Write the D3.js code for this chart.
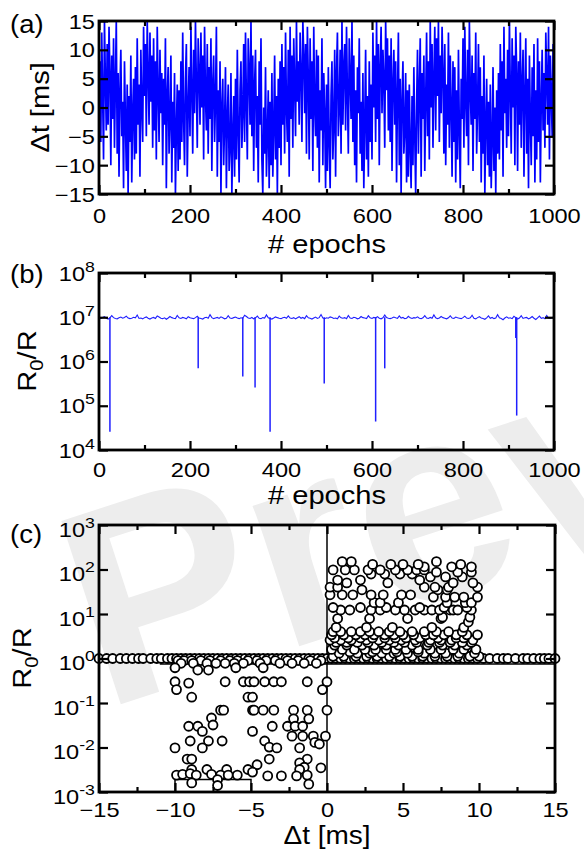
<!DOCTYPE html>
<html>
<head>
<meta charset="utf-8">
<script src="https://cdn.jsdelivr.net/npm/d3@7"></script>
<style>
  body { margin: 0; background: #fff; }
  svg { display: block; }
</style>
</head>
<body>
<svg id="chart" width="584" height="857"></svg>
<script>
// ---------------- DATA ----------------
// Panel (a): Δt [ms] per epoch (one value every epochStep epochs)
const epochStep = 2;
const dtSeries = [
  0, 8, -6, 13, 2, -9, 15, 5, -4, 11,   -3, 14, 6, -10, 9, -2, 12, -7, 4, 15,
  -8, 6, -12, 3, 10, -5, 1, -14, 8, -2,  -11, 4, -15, 2, -6, 9, -13, -1, 5, -9,
  7, -8, 12, -3, 4, -12, 10, 0, -6, 14,  2, 11, -5, 15, 6, -3, 13, 1, 9, -7,
  12, -4, 8, -9, 14, 3, -6, 10, -1, 6,   -10, 5, -3, 12, -14, 2, 7, -8, -2, 9,
  -13, 1, -7, 6, -15, -4, 4, -11, 3, -9, 8, -6, 13, -2, -10, 5, 11, -12, 0, 7,
  -5, 14, 3, -8, 10, -1, 15, 4, -7, 12,  6, -3, 13, 0, 9, -9, 14, 2, -4, 11,
  -8, 7, -2, 12, -11, 4, 9, -6, 1, 14,   -12, 3, -6, 8, -15, 0, 5, -10, -3, 7,
  -14, -2, 4, -11, -7, 6, -15, -5, 2, -12, 5, -9, 10, -4, -13, 3, 8, -7, -1, 11,
  -6, 13, 1, -9, 12, 6, -3, 15, -5, 9,   -11, 4, 10, -7, 2, -13, 8, -3, 12, -9,
  -15, 0, -8, 7, -12, -5, 3, -14, 1, -10, 6, -12, -4, 9, -9, 2, -15, 5, -7, 8,
  -10, 11, -3, 7, -8, 13, 0, -6, 10, -12, 14, -2, 9, -7, 12, 4, -5, 15, 1, 8,
  -3, 13, 6, -6, 15, 9, -1, 11, -8, 14,  5, -9, 12, -2, 8, -11, 14, 0, -5, 10,
  -7, 9, -13, 3, -4, 12, -10, 6, -1, -14, 4, -11, 7, -6, -14, 2, 8, -9, -3, 10,
  -12, 6, 13, -5, 0, 10, -8, 15, -3, 7,  11, -4, 14, 2, -8, 12, 5, -2, 15, -6,
  9, -10, 3, -13, 7, -1, 12, -8, 1, -11, 6, -14, -3, 10, -9, 2, -12, 8, -6, 4,
  -9, 13, 0, 9, -6, 15, -2, 11, -10, 7,  14, -1, 10, 5, -7, 15, 3, 12, -4, 9,
  -6, 12, -11, 4, 10, -3, 8, -13, 2, 13, -10, 5, -15, 1, 8, -8, -4, 6, -13, 3,
  -12, 4, -7, -14, 2, -10, 7, -5, -15, 0, 10, -8, 3, 12, -12, 6, -2, 9, -11, 1,
  13, -5, 8, -9, 15, 0, 11, -7, 5, 14,   -4, 12, 2, 15, -6, 9, -1, 14, 6, -8,
  11, -10, 4, -3, 13, -7, 9, 0, -12, 8,  -6, 7, -13, 3, -9, 10, -4, -14, 5, -2,
  12, -7, 14, 1, -5, 10, -10, 15, 3, -3, 9, -11, 6, -2, 13, -8, 0, 11, -6, 7,
  -13, 2, -8, 9, -15, -3, 5, -10, 1, -12, 4, -14, -6, 7, -11, 0, -15, 3, -8, 6,
  -9, 11, -4, 8, -12, 14, -1, 5, -7, 10, -5, 15, 3, -8, 12, 0, 9, -10, 14, 6,
  -11, 8, -3, 13, -7, 4, 10, -12, 2, 12, -8, 5, -14, 9, -2, -10, 7, -5, 11, -13,
  3, -9, 12, -6, 8, -13, 1, 10, -4, 6,   -7, 13, 5, -3, 14, -9, 9, 2, -5, 11,
  4
];

// Panel (b): R0/R baseline (in units of ratioUnit), one value every baseEpochStep epochs
const ratioUnit = 1e7;
const baseEpochStep = 4;
const ratioBase = [
  0.96,0.93,0.99,1.03,0.95,0.91,0.97,1.09,0.98,0.94,0.92,0.97,1.01,0.95,0.99,1.06,0.96,0.93,0.95,1.00,0.97,1.12,0.94,0.96,0.92,
  0.98,1.02,0.95,0.91,0.96,0.99,0.94,1.07,1.01,0.95,0.93,0.97,0.90,0.96,1.04,0.98,0.95,0.93,1.10,0.97,0.94,0.99,0.96,0.92,1.03,
  0.97,0.95,0.93,0.98,1.05,0.96,0.94,0.91,0.97,1.00,0.95,1.14,0.98,0.93,0.96,0.99,0.94,1.02,0.97,0.92,0.95,1.08,0.96,0.94,0.98,
  1.01,0.96,0.93,0.97,0.95,1.11,1.04,0.96,0.94,0.99,0.92,0.97,1.06,0.95,0.93,0.98,0.96,1.13,0.97,0.94,0.91,0.96,1.02,0.98,0.95,
  0.93,0.97,1.00,0.95,1.07,0.96,0.94,0.98,0.92,0.97,1.03,0.95,0.99,0.93,1.09,0.97,0.95,0.91,0.96,1.01,0.94,0.98,1.15,0.96,0.93,
  0.97,0.95,1.02,0.99,0.94,0.96,0.92,1.06,0.97,0.95,0.98,0.93,1.10,0.96,0.94,1.00,0.97,0.92,0.95,1.04,0.98,0.96,0.93,1.08,0.97,
  0.94,0.99,0.96,1.03,0.95,0.92,0.97,1.12,0.98,0.95,0.93,0.96,1.01,0.97,0.94,1.07,0.96,0.99,0.93,0.95,1.05,0.97,0.94,0.98,0.96,
  1.02,0.95,0.93,0.97,1.09,0.96,0.94,0.99,0.95,1.13,0.97,0.93,0.96,1.04,0.98,0.95,0.92,0.97,1.08,0.96,0.94,1.01,0.97,0.95,0.93,
  0.98,1.06,0.96,0.94,0.97,1.11,0.95,0.92,0.98,1.03,0.96,0.94,0.90,0.97,1.07,0.95,0.99,0.93,0.96,1.14,0.97,0.94,0.88,0.96,1.02,
  0.95,0.97,0.93,1.05,0.98,0.91,0.96,1.09,0.94,0.97,0.99,0.92,0.96,1.04,0.95,0.89,0.97,1.06,0.94,0.98,0.93,1.10,0.96,0.94,0.99,
  0.97
];
// Panel (b): sharp drops of R0/R
const dipEpochs = [24, 218, 316, 343, 376, 495, 608, 628, 916, 918];
const dipRatios = [2.6e4, 7e5, 4.6e5, 2.6e5, 2.6e4, 3.2e5, 4.4e4, 7e5, 3.4e6, 6e4];

// Panel (c): scatter points [Δt (ms), R0/R]
const scatterPts = [
  // R0/R = 1 band
  [-15,1],[-14.5,1],[-14.1,1],[-13.6,1],[-13.2,1],[-12.8,1],[-12.4,1],[-12.1,1],[-11.6,1],[-11.2,1],[-10.9,1],[-10.5,1],[-10.2,1],
  [-9.9,1],[-9.6,1],[-9.3,1],[-9.0,1],[-8.7,1],[-8.4,1],[-8.1,1],[-7.8,1],[-7.5,1],[-7.2,1],[-6.9,1],[-6.6,1],[-6.3,1],[-6.0,1],
  [-5.7,1],[-5.4,1],[-5.1,1],[-4.8,1],[-4.5,1],[-4.2,1],[-3.9,1],[-3.6,1],[-3.3,1],[-3.0,1],[-2.7,1],[-2.4,1],[-2.1,1],[-1.8,1],
  [-1.5,1],[-1.2,1],[-0.9,1],[-0.6,1],[-0.3,1],[0.0,1],[0.3,1],[0.6,1],[0.9,1],[1.2,1],[1.5,1],[1.8,1],[2.1,1],[2.4,1],[2.7,1],
  [3.0,1],[3.3,1],[3.6,1],[3.9,1],[4.2,1],[4.5,1],[4.8,1],[5.1,1],[5.4,1],[5.7,1],[6.0,1],[6.3,1],[6.6,1],[6.9,1],[7.2,1],[7.5,1],
  [7.8,1],[8.1,1],[8.4,1],[8.7,1],[9.0,1],[9.3,1],[9.6,1],[9.9,1],[10.3,1],[10.7,1],[11.2,1],[11.6,1],[11.9,1],[12.4,1],[12.9,1],
  [13.2,1],[13.6,1],[14.0,1],[14.3,1],[14.6,1],[15.0,1],
  // just below 1 (Δt < 0)
  [-9.8,0.9],[-9.4,0.9],[-8.9,0.9],[-8.3,0.9],[-7.7,0.9],[-7.0,0.9],[-6.4,0.9],[-5.9,0.9],[-5.2,0.9],[-4.6,0.9],[-4.0,0.9],
  [-3.4,0.9],[-2.6,0.9],[-1.9,0.9],[-1.1,0.9],[-0.4,0.9],
  [-9.6,0.78],[-8.8,0.78],[-7.9,0.78],[-7.3,0.78],[-6.7,0.78],[-6.1,0.78],[-5.5,0.78],[-4.4,0.78],[-3.1,0.78],[-2.3,0.78],
  [-1.5,0.78],[-0.7,0.78],
  [-10.0,0.62],[-6.0,0.62],[-4.2,0.62],[-8.5,0.55],[-7.8,0.55],
  // depression cloud (Δt < 0)
  [-10.0,0.3],[-9.1,0.28],[-6.7,0.3],[-5.5,0.3],[-5.1,0.3],[-4.8,0.3],[-4.1,0.3],[-3.5,0.3],[-3.0,0.3],[-1.3,0.3],[0.0,0.3],
  [-9.9,0.2],[-0.3,0.2],
  [-8.9,0.135],[-5.2,0.135],[-4.9,0.135],
  [-7.0,0.069],[-6.8,0.069],[-4.9,0.069],[-4.8,0.069],[-4.2,0.069],[-3.5,0.069],[-2.2,0.069],[-1.3,0.069],[0.0,0.069],
  [-7.6,0.046],[-2.2,0.044],[-1.2,0.044],
  [-7.5,0.032],[-9.1,0.03],[-8.5,0.03],[-3.6,0.03],[-2.6,0.03],[-2.1,0.03],[-1.6,0.03],
  [-8.2,0.023],[-4.9,0.023],
  [-2.3,0.018],[-1.6,0.018],[-0.9,0.018],[-0.1,0.018],
  [-9.0,0.014],[-7.8,0.014],[-6.9,0.014],[-4.1,0.014],[-0.8,0.013],[-0.5,0.012],
  [-8.2,0.0098],[-10.0,0.0098],[-3.8,0.0102],[-3.3,0.0098],[-1.8,0.0098],
  [-9.2,0.0055],[-8.9,0.0055],[-3.8,0.0055],[-1.3,0.0055],
  [-1.8,0.0045],[-4.6,0.0041],[-1.5,0.0036],[-1.8,0.0032],[-0.4,0.0035],
  [-8.9,0.0032],[-7.9,0.0032],[-6.6,0.0032],[-5.2,0.0032],[-4.9,0.0028],
  [-9.9,0.0024],[-9.5,0.0025],[-9.0,0.0026],[-8.6,0.0024],[-7.6,0.0025],[-7.0,0.0024],[-6.5,0.0024],[-5.9,0.0024],
  [-7.2,0.0019],[-7.2,0.0014],[-8.9,0.0016],
  [-3.9,0.0023],[-3.0,0.0023],[-2.0,0.0023],[-1.3,0.0024],[-1.2,0.0015],
  // potentiation cloud (Δt > 0)
  [0.4,1.12],[1.1,1.12],[1.9,1.12],[2.6,1.12],[3.3,1.12],[4.1,1.12],[4.8,1.12],[5.6,1.12],[6.3,1.12],[7.1,1.12],[7.9,1.12],
  [8.6,1.12],[9.4,1.12],[10.0,1.12],
  [0.8,1.32],[2.0,1.32],[2.8,1.32],[3.6,1.32],[4.4,1.32],[5.3,1.32],[6.4,1.32],[7.1,1.32],[7.8,1.32],[8.7,1.32],[9.7,1.32],
  [1.5,1.4],[3.0,1.4],[4.6,1.4],[6.0,1.4],
  [0.3,1.6],[1.0,1.6],[1.8,1.6],[2.5,1.6],[3.2,1.6],[3.9,1.6],[4.5,1.6],[5.2,1.6],[6.0,1.6],[6.8,1.6],[7.5,1.6],[8.3,1.6],
  [9.0,1.6],[9.8,1.6],
  [0.5,2.0],[1.3,2.0],[2.3,2.0],[3.1,2.0],[3.9,2.0],[4.7,2.0],[5.6,2.0],[6.6,2.0],[7.6,2.0],[8.4,2.0],[9.2,2.0],
  [0.6,2.3],[1.3,2.3],[2.0,2.3],[2.7,2.3],[3.6,2.3],[4.4,2.3],[5.1,2.3],[5.9,2.3],[6.7,2.3],[7.4,2.3],[8.1,2.3],[8.9,2.3],[9.5,2.3],
  [0.2,2.6],[0.9,2.6],[1.6,2.6],[2.6,2.6],[3.4,2.6],[4.1,2.6],[4.9,2.6],[5.8,2.6],[6.8,2.6],[7.5,2.6],[8.2,2.6],[9.6,2.6],
  [0.5,2.9],[1.4,2.9],[2.2,2.9],[3.0,2.9],[3.8,2.9],[4.5,2.9],[5.2,2.9],[6.1,2.9],[7.3,2.9],[8.5,2.9],[9.0,2.9],
  [0.3,3.4],[1.1,3.4],[1.9,3.4],[2.5,3.4],[3.1,3.4],[3.8,3.4],[4.4,3.4],[5.0,3.4],[5.7,3.4],[6.5,3.4],[7.0,3.4],[7.7,3.4],
  [8.5,3.4],[9.2,3.4],[9.9,3.4],
  [0.4,4.0],[0.9,4.0],[1.6,4.0],[2.2,4.0],[2.8,4.0],[3.4,4.0],[4.1,4.0],[4.8,4.0],[5.6,4.0],[6.4,4.0],[7.2,4.0],[8.0,4.0],[8.9,4.0],
  [0.6,5.0],[2.6,5.0],[4.3,5.0],[6.9,5.0],[9.0,5.0],
  [9.3,6.6],[0.7,7.9],[2.8,7.9],[5.3,7.9],[7.5,7.9],[7.6,8.5],[9.4,8.5],
  [0.9,12.3],[1.5,12.3],[2.9,12.3],[3.5,12.3],[4.5,12.3],[5.1,12.3],[5.8,12.3],[6.4,12.3],[6.9,12.3],[7.4,12.3],[8.1,12.3],
  [8.3,12.3],[8.6,12.3],[9.5,12.3],
  [0.4,14],[2.2,14],[3.9,14],[6.1,14],[7.7,14],[9.2,14],
  [3.1,18],[3.5,18],[4.7,18],[7.9,18],[9.1,18],[9.5,18],
  [7.0,24],[7.8,24],[8.4,24],[9.0,24],[9.9,24],
  [0.2,27],[1.0,27],[1.7,27],[2.9,27],[3.7,27],[4.9,27],[5.5,27],
  [2.3,35],[7.3,35],[7.9,35],
  [0.2,40],[0.7,40],[6.4,40],[7.1,40],[8.0,40],[9.9,40],
  [1.3,50],[4.0,50],[8.3,50],[9.6,50],
  [0.7,58],[2.2,58],[6.1,58],
  [6.8,68],[7.8,68],[8.9,68],
  [2.9,79],[3.8,79],[4.8,79],[5.6,79],
  [7.2,87],[8.6,87],[9.5,87],
  [0.4,98],[1.2,98],[1.8,98],[2.7,98],[3.5,98],[4.5,98],[5.3,98],[5.9,98],[6.4,98],
  [6.4,115],[8.2,115],[9.5,115],
  [3.0,130],[4.2,130],[5.0,130],[6.0,130],[8.8,130],
  [1.0,150],[1.6,150],[7.2,150]
];
// Panel (c): guide lines
const guideV = [[0, 1e-3], [0, 1e3]];
const guideH = [[-11, 0.75], [15, 0.75]];
const guideBox = [[-10, 1e-3], [-10, 0.0019], [-5, 0.0019], [-5, 1e-3]];

// Tick values
const epochMajor = [0, 200, 400, 600, 800, 1000];
const epochMinor = [100, 300, 500, 700, 900];
const dtMajorA = [-15, -10, -5, 0, 5, 10, 15];
const decadesB = [1e4, 1e5, 1e6, 1e7, 1e8];
const decadesC = [1e-3, 1e-2, 1e-1, 1e0, 1e1, 1e2, 1e3];
const dtMajorC = [-15, -10, -5, 0, 5, 10, 15];
const dtMinorC = [-12.5, -7.5, -2.5, 2.5, 7.5, 12.5];

// ---------------- DRAWING ----------------
const FONT = '"Liberation Sans", Arial, Helvetica, sans-serif';
const SX = 1.18;  // tick label width stretch
const SXT = 1.12; // title width stretch
const svg = d3.select('#chart');

// watermark
svg.append('text')
  .attr('transform', 'translate(103,710) rotate(-18)')
  .attr('font-family', FONT).attr('font-weight', 'bold')
  .attr('font-size', 280).attr('fill', '#ededed')
  .text('Preview');

function expLabel(sel, shiftDy) {
  sel.each(function(d) {
    const t = d3.select(this);
    const e = Math.round(Math.log10(d));
    t.text(null).attr('dy', shiftDy);
    t.append('tspan').text('10');
    t.append('tspan').attr('dy', -9).attr('font-size', 15).text(String(e));
  });
}

function drawAxes(x, y, cfg) {
  const [xl, xr] = x.range();
  const [yb, yt] = y.range();
  const g = svg.append('g');
  const MAJ = 9, MIN = 5;
  function add(axis, tr) {
    const a = g.append('g').attr('transform', tr).call(axis);
    a.select('.domain').remove();
    a.attr('font-family', FONT).attr('font-size', 20);
    a.selectAll('line').attr('stroke', '#000').attr('stroke-width', 2.2);
    a.selectAll('text').attr('fill', '#000');
    return a;
  }
  // bottom
  const bot = add(d3.axisBottom(x).tickValues(cfg.xMajor).tickSize(-MAJ).tickSizeOuter(0)
      .tickFormat(cfg.xFormat || d3.format('d')), `translate(0,${yb})`);
  bot.selectAll('text').attr('y', cfg.xLabOff).attr('dy', 0)
     .attr('transform', `scale(${SX},1)`);
  add(d3.axisBottom(x).tickValues(cfg.xMinor).tickSize(-MIN).tickSizeOuter(0).tickFormat(''), `translate(0,${yb})`);
  // top
  add(d3.axisTop(x).tickValues(cfg.xMajor).tickSize(-MAJ).tickSizeOuter(0).tickFormat(''), `translate(0,${yt})`);
  add(d3.axisTop(x).tickValues(cfg.xMinor).tickSize(-MIN).tickSizeOuter(0).tickFormat(''), `translate(0,${yt})`);
  // left
  const left = add(d3.axisLeft(y).tickValues(cfg.yMajor).tickSize(-MAJ).tickSizeOuter(0).tickPadding(3.5)
      .tickFormat(cfg.log ? (() => '') : d3.format('d')), `translate(${xl},0)`);
  if (cfg.log) expLabel(left.selectAll('text'), cfg.yDy);
  else left.selectAll('text').attr('dy', cfg.yDy);
  left.selectAll('text').attr('transform', `scale(${SX},1)`);
  // right
  add(d3.axisRight(y).tickValues(cfg.yMajor).tickSize(-MAJ).tickSizeOuter(0).tickFormat(''), `translate(${xr},0)`);
  // frame
  g.append('rect').attr('x', xl).attr('y', yt).attr('width', xr - xl).attr('height', yb - yt)
    .attr('fill', 'none').attr('stroke', '#000').attr('stroke-width', 2.8);
  return g;
}

function addText(x, y, size, str, opts = {}) {
  const t = svg.append('text')
    .attr('transform', `translate(${x},${y})` + (opts.rot ? ' rotate(-90)' : '') + ` scale(${opts.sx || SXT},1)`)
    .attr('font-family', FONT).attr('font-size', size).attr('fill', '#000')
    .attr('text-anchor', opts.anchor || 'middle');
  if (typeof str === 'string') t.text(str);
  else str(t);
  return t;
}
function ratioTitle(t) {
  t.append('tspan').text('R');
  t.append('tspan').attr('font-size', 18).attr('dy', 7).text('0');
  t.append('tspan').attr('dy', -7).text('/R');
}

// ---- Panel (a)
const xA = d3.scaleLinear().domain([0, 1000]).range([99, 554]);
const yA = d3.scaleLinear().domain([-15, 15]).range([194, 21]);
svg.append('clipPath').attr('id', 'clipA').append('rect')
  .attr('x', 99).attr('y', 21).attr('width', 455).attr('height', 173);
svg.append('path')
  .datum(dtSeries.map((v, i) => [i * epochStep, v]))
  .attr('clip-path', 'url(#clipA)')
  .attr('fill', 'none').attr('stroke', '#0000ff').attr('stroke-width', 1.7)
  .attr('d', d3.line().x(d => xA(d[0])).y(d => yA(d[1])));
drawAxes(xA, yA, { xMajor: epochMajor, xMinor: epochMinor, yMajor: dtMajorA, xLabOff: 29, yDy: '0.35em' });
addText(327, 253, 26, '# epochs');
addText(49, 107.5, 26, 'Δt [ms]', { rot: true });
addText(10, 33, 25, '(a)', { anchor: 'start', sx: 1.1 });

// ---- Panel (b)
const xB = d3.scaleLinear().domain([0, 1000]).range([99, 554]);
const yB = d3.scaleLog().domain([1e4, 1e8]).range([450, 273]);
const lineB = d3.line().x(d => xB(d[0])).y(d => yB(d[1]));
svg.append('path')
  .datum(ratioBase.map((v, i) => [i * baseEpochStep, v * ratioUnit]))
  .attr('fill', 'none').attr('stroke', '#1f1fff').attr('stroke-width', 1.1)
  .attr('d', lineB);
svg.append('g').selectAll('path').data(dipEpochs).join('path')
  .attr('fill', 'none').attr('stroke', '#1f1fff').attr('stroke-width', 1.5)
  .attr('d', (e, i) => lineB([[e, ratioUnit], [e, dipRatios[i]]]));
drawAxes(xB, yB, { xMajor: epochMajor, xMinor: epochMinor, yMajor: decadesB, log: true, xLabOff: 27, yDy: '0.35em' });
addText(327, 504, 26, '# epochs');
addText(36, 361, 26, ratioTitle, { rot: true });
addText(10, 283, 25, '(b)', { anchor: 'start', sx: 1.1 });

// ---- Panel (c)
const xC = d3.scaleLinear().domain([-15, 15]).range([99, 555]);
const yC = d3.scaleLog().domain([1e-3, 1e3]).range([792, 525]);
const lineC = d3.line().x(d => xC(d[0])).y(d => yC(d[1]));
[guideH, guideV, guideBox].forEach(gd => {
  svg.append('path').datum(gd).attr('fill', 'none').attr('stroke', '#000')
    .attr('stroke-width', 1.5).attr('d', lineC);
});
svg.append('g').selectAll('circle').data(scatterPts).join('circle')
  .attr('cx', d => xC(d[0])).attr('cy', d => yC(d[1])).attr('r', 4.5)
  .attr('fill', '#fff').attr('stroke', '#000').attr('stroke-width', 1.8);
drawAxes(xC, yC, { xMajor: dtMajorC, xMinor: dtMinorC, yMajor: decadesC, log: true, xLabOff: 25, yDy: '0.55em' });
addText(327, 844, 25, 'Δt [ms]');
addText(31, 658, 26, ratioTitle, { rot: true });
addText(10, 543, 25, '(c)', { anchor: 'start', sx: 1.1 });
</script>
</body>
</html>
